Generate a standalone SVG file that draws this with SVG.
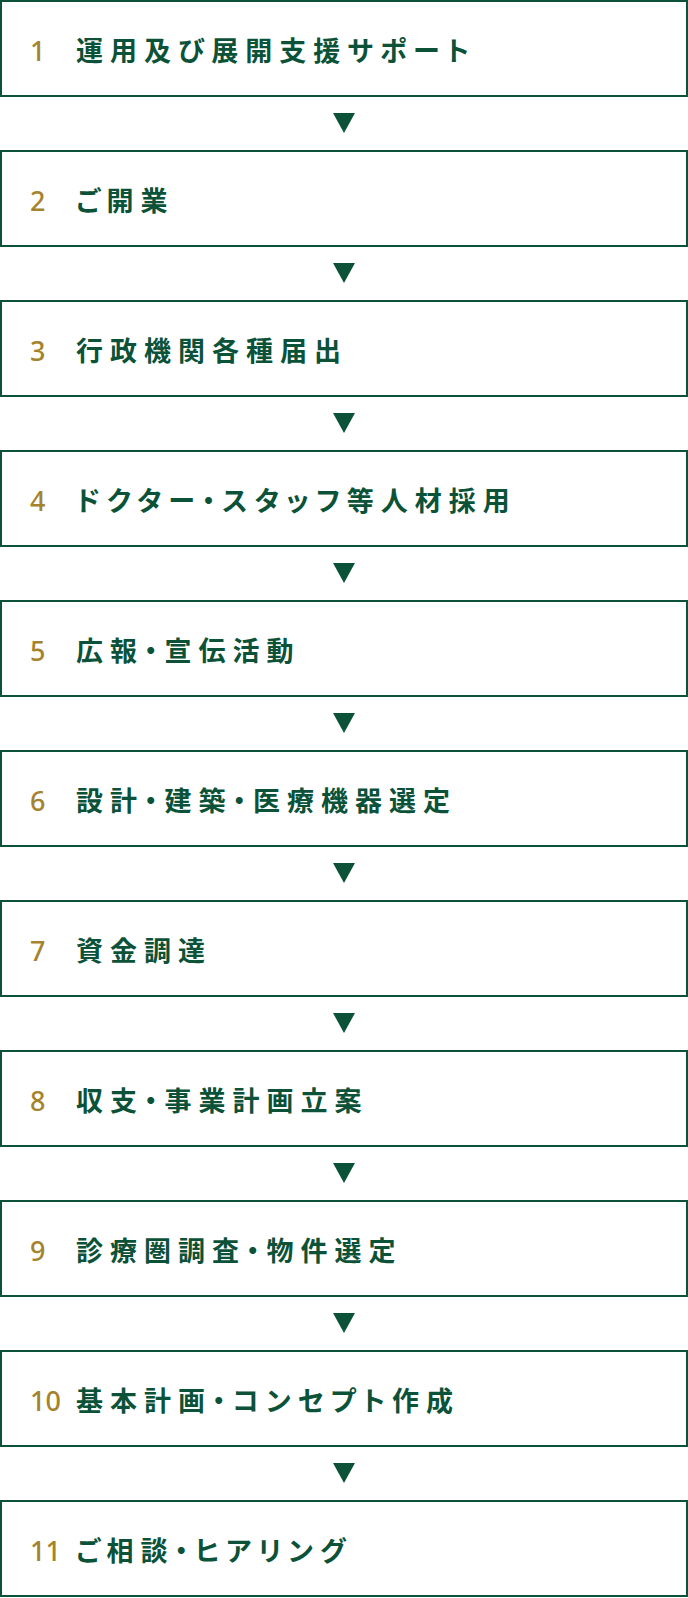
<svg xmlns="http://www.w3.org/2000/svg" width="688" height="1598" viewBox="0 0 688 1598">
<style>
.box{fill:#ffffff;stroke:#0b5238;stroke-width:2}
.num{font-family:"Noto Sans","Roboto","Noto Sans CJK JP",sans-serif;font-size:27px;font-weight:500;fill:#a5832c}
.lbl{font-family:"Noto Sans CJK JP","Noto Sans",sans-serif;font-size:27px;font-weight:700;fill:#0b5238;letter-spacing:7px;font-feature-settings:"palt"}
.arr{fill:#0b5238}
</style>
<rect width="688" height="1598" fill="#ffffff"/>
<g id="connectors">
<polygon class="arr" points="333,113 355,113 344,133"/>
<polygon class="arr" points="333,263 355,263 344,283"/>
<polygon class="arr" points="333,413 355,413 344,433"/>
<polygon class="arr" points="333,563 355,563 344,583"/>
<polygon class="arr" points="333,713 355,713 344,733"/>
<polygon class="arr" points="333,863 355,863 344,883"/>
<polygon class="arr" points="333,1013 355,1013 344,1033"/>
<polygon class="arr" points="333,1163 355,1163 344,1183"/>
<polygon class="arr" points="333,1313 355,1313 344,1333"/>
<polygon class="arr" points="333,1463 355,1463 344,1483"/>
</g>
<g id="step1"><rect class="box" x="1" y="1" width="686" height="95"/><text class="num" x="30" y="61">1</text><text class="lbl" x="76" y="61">運用及び展開支援サポート</text></g>
<g id="step2"><rect class="box" x="1" y="151" width="686" height="95"/><text class="num" x="30" y="211">2</text><text class="lbl" x="76" y="211">ご開業</text></g>
<g id="step3"><rect class="box" x="1" y="301" width="686" height="95"/><text class="num" x="30" y="361">3</text><text class="lbl" x="76" y="361">行政機関各種届出</text></g>
<g id="step4"><rect class="box" x="1" y="451" width="686" height="95"/><text class="num" x="30" y="511">4</text><text class="lbl" x="76" y="511">ドクター・スタッフ等人材採用</text></g>
<g id="step5"><rect class="box" x="1" y="601" width="686" height="95"/><text class="num" x="30" y="661">5</text><text class="lbl" x="76" y="661">広報・宣伝活動</text></g>
<g id="step6"><rect class="box" x="1" y="751" width="686" height="95"/><text class="num" x="30" y="811">6</text><text class="lbl" x="76" y="811">設計・建築・医療機器選定</text></g>
<g id="step7"><rect class="box" x="1" y="901" width="686" height="95"/><text class="num" x="30" y="961">7</text><text class="lbl" x="76" y="961">資金調達</text></g>
<g id="step8"><rect class="box" x="1" y="1051" width="686" height="95"/><text class="num" x="30" y="1111">8</text><text class="lbl" x="76" y="1111">収支・事業計画立案</text></g>
<g id="step9"><rect class="box" x="1" y="1201" width="686" height="95"/><text class="num" x="30" y="1261">9</text><text class="lbl" x="76" y="1261">診療圏調査・物件選定</text></g>
<g id="step10"><rect class="box" x="1" y="1351" width="686" height="95"/><text class="num" x="30" y="1411">10</text><text class="lbl" x="76" y="1411">基本計画・コンセプト作成</text></g>
<g id="step11"><rect class="box" x="1" y="1501" width="686" height="95"/><text class="num" x="30" y="1561">11</text><text class="lbl" x="76" y="1561">ご相談・ヒアリング</text></g>
</svg>
